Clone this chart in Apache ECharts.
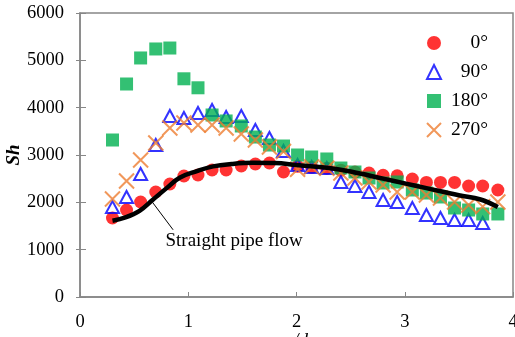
<!DOCTYPE html>
<html>
<head>
<meta charset="utf-8">
<script src="https://cdn.jsdelivr.net/npm/echarts@6/dist/echarts.min.js"></script>
<style>
  html, body { margin: 0; padding: 0; background: #fff; }
  #chart { width: 515px; height: 337px; }
</style>
</head>
<body>
<div id="chart"></div>
<script>
// x/d positions of the measured points
const xPos = [0.30, 0.43, 0.56, 0.70, 0.83, 0.96, 1.09, 1.22, 1.35, 1.49, 1.62, 1.75, 1.88, 2.01,
  2.14, 2.28, 2.41, 2.54, 2.67, 2.80, 2.93, 3.07, 3.20, 3.33, 3.46, 3.59, 3.72, 3.86];

const sh0 = [1669, 1838, 2007, 2218, 2387, 2556, 2578, 2683, 2683, 2768, 2810, 2831, 2641, 2760,
  2740, 2720, 2680, 2640, 2620, 2570, 2560, 2493, 2420, 2420, 2420, 2345, 2345, 2261];
const sh90 = [1900, 2113, 2599, 3211, 3824, 3782, 3888, 3951, 3803, 3824, 3528, 3359, 3085, 2789,
  2747, 2725, 2430, 2345, 2218, 2049, 2007, 1880, 1733, 1669, 1627, 1627, 1563, null];
const sh180 = [3317, 4500, 5050, 5240, 5260, 4610, 4420, 3845, 3719, 3613, 3380, 3211, 3190, 3000,
  2958, 2916, 2725, 2641, 2514, 2409, 2430, 2261, 2197, 2113, 1880, 1838, 1754, 1754];
const sh270 = [2070, 2450, 2894, 3254, 3571, 3676, 3634, 3634, 3571, 3444, 3317, 3169, 3075, 2700,
  2750, 2720, 2620, 2514, 2430, 2366, 2218, 2218, 2155, 2092, 2007, 1944, 1910, 2007];

// straight pipe flow curve
const pipeX = [0.30, 0.42, 0.55, 0.67, 0.80, 0.92, 1.08, 1.23, 1.40, 1.60, 1.80, 2.00, 2.30, 2.50,
  2.80, 3.00, 3.20, 3.50, 3.70, 3.86];
const pipeY = [1610, 1680, 1820, 2050, 2300, 2520, 2660, 2760, 2810, 2835, 2830, 2790, 2725, 2650,
  2500, 2400, 2300, 2150, 2060, 1900];

const legendNames = ['0°', '90°', '180°', '270°'];
const xTicks = [0, 1, 2, 3, 4];
const yTicks = [0, 1000, 2000, 3000, 4000, 5000, 6000];

const pairs = (ys) => xPos.map((x, i) => [x, ys[i]]).filter(p => p[1] != null);

const serif = '"Liberation Serif", "DejaVu Serif", serif';
const axisGray = '#878787';

const chart = echarts.init(document.getElementById('chart'));

const option = {
  animation: false,
  grid: {
    left: 80, right: 2, top: 13, bottom: 40,
    outerBoundsMode: 'none',
    containLabel: false,
    show: true, borderColor: axisGray, borderWidth: 1.5
  },
  legend: {
    data: legendNames,
    orient: 'vertical',
    left: 421,
    top: 28,
    itemWidth: 14,
    itemHeight: 14,
    itemGap: 9,
    formatter: (n) => '{t|' + n + '}',
    textStyle: {
      rich: {
        t: { width: 42, align: 'right', fontFamily: serif, fontSize: 19.5, color: '#000' }
      }
    }
  },
  xAxis: {
    type: 'value',
    min: xTicks[0], max: xTicks[xTicks.length - 1], interval: 1,
    name: 'x/d',
    nameLocation: 'middle',
    nameGap: 34,
    nameMoveOverlap: false,
    nameTextStyle: { fontFamily: serif, fontSize: 19, fontStyle: 'italic', color: '#000' },
    splitLine: { show: false },
    axisLine: { lineStyle: { color: axisGray, width: 1.5 } },
    axisTick: { inside: true, length: 5, lineStyle: { color: axisGray } },
    axisLabel: { margin: 16, fontFamily: serif, fontSize: 18.5, color: '#000', formatter: (v) => String(v) }
  },
  yAxis: [{
    type: 'value',
    min: yTicks[0], max: yTicks[yTicks.length - 1], interval: 1000,
    name: 'Sh',
    nameLocation: 'middle',
    nameGap: 56,
    nameMoveOverlap: false,
    nameTextStyle: { fontFamily: serif, fontSize: 19, fontStyle: 'italic', fontWeight: 'bold', color: '#000' },
    splitLine: { show: false },
    axisLine: { lineStyle: { color: axisGray, width: 1.5 } },
    axisTick: { length: 4, lineStyle: { color: axisGray } },
    axisLabel: { margin: 16, fontFamily: serif, fontSize: 18.5, color: '#000', formatter: (v) => String(v) }
  }, {
    // inner half of the crossing ticks
    type: 'value',
    position: 'left',
    min: yTicks[0], max: yTicks[yTicks.length - 1], interval: 1000,
    splitLine: { show: false },
    axisLine: { show: false },
    axisLabel: { show: false },
    axisTick: { inside: true, length: 6, lineStyle: { color: axisGray } }
  }],
  series: [
    {
      name: legendNames[0], type: 'scatter', data: pairs(sh0),
      symbol: 'circle', symbolSize: 13,
      itemStyle: { color: '#ff0000' }
    },
    {
      name: legendNames[1], type: 'scatter', data: pairs(sh90),
      symbol: 'triangle', symbolSize: [13, 12],
      itemStyle: { color: 'rgba(0,0,0,0)', borderColor: '#0000ff', borderWidth: 2 }
    },
    {
      name: legendNames[2], type: 'scatter', data: pairs(sh180),
      symbol: 'rect', symbolSize: 13,
      itemStyle: { color: '#00b050' }
    },
    {
      name: legendNames[3], type: 'scatter', data: pairs(sh270),
      symbol: 'path://M0,0L10,10M10,0L0,10', symbolSize: 15,
      itemStyle: { color: 'rgba(0,0,0,0)', borderColor: '#ed7d31', borderWidth: 2 }
    },
    {
      name: 'Straight pipe flow', type: 'line',
      data: pipeX.map((x, i) => [x, pipeY[i]]),
      smooth: 0.4, showSymbol: false, symbol: 'none',
      lineStyle: { color: '#000', width: 4.5 },
      markLine: {
        silent: true, symbol: 'none',
        lineStyle: { color: '#000', width: 1, type: 'solid' },
        label: { show: false },
        data: [[{ coord: [0.67, 2000] }, { coord: [0.86, 1420] }]]
      },
      markPoint: {
        silent: true, symbol: 'circle', symbolSize: 0,
        data: [{ coord: [0.79, 1183] }],
        label: {
          show: true, position: 'right', distance: 0,
          formatter: 'Straight pipe flow',
          fontFamily: serif, fontSize: 19, color: '#000'
        }
      }
    }
  ]
};

chart.setOption(option);
</script>
</body>
</html>
